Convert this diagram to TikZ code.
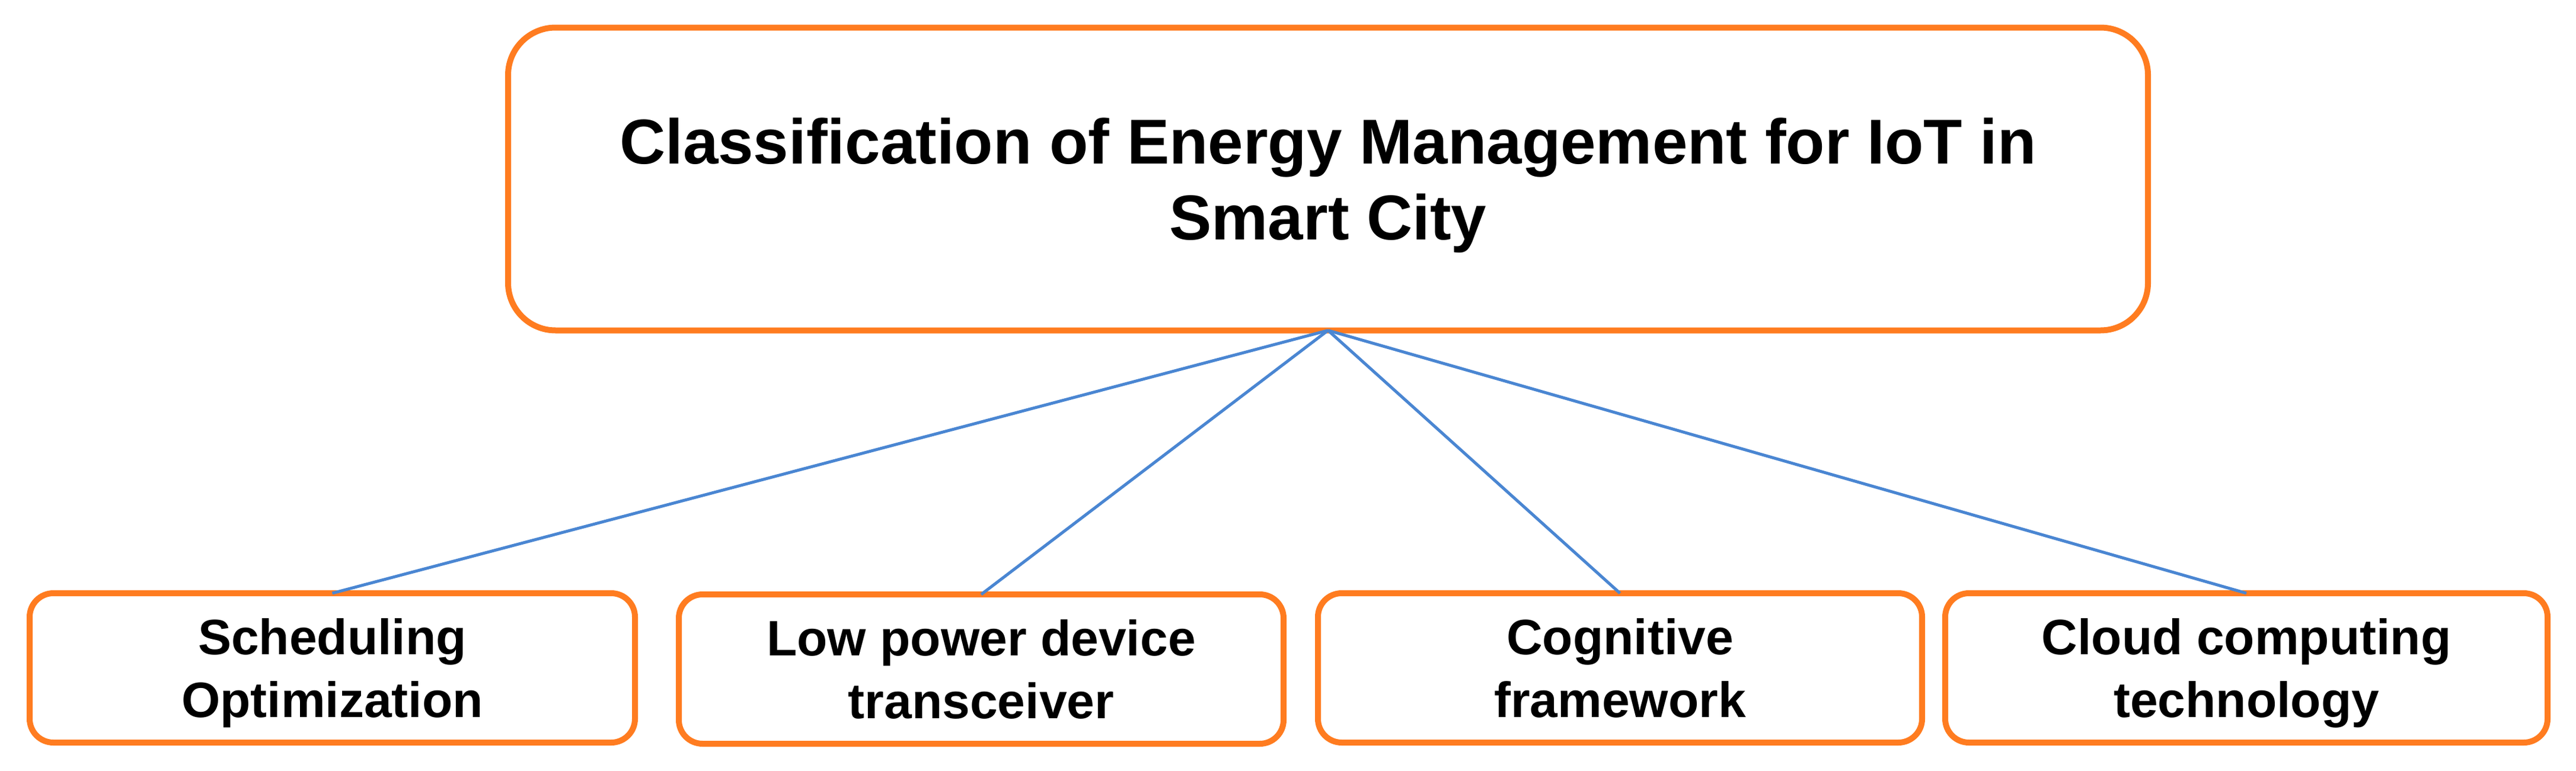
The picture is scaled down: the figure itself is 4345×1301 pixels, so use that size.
\documentclass[tikz,border=0pt]{standalone}
\usepackage{fontspec}
\setmainfont{Liberation Sans}
\definecolor{boxorange}{RGB}{255,124,32}
\definecolor{linkblue}{RGB}{74,134,210}
\begin{document}
\begin{tikzpicture}[x=1pt,y=-1pt,
  topbox/.style={draw=boxorange, line width=10pt, rounded corners=80pt, fill=white,
    inner sep=0pt, outer sep=0pt, minimum width=2766pt, minimum height=511pt,
    align=center, text depth=0pt, font=\fontsize{107}{128}\selectfont\bfseries},
  leafbox/.style={draw=boxorange, line width=10pt, rounded corners=40pt, fill=white,
    inner sep=0pt, outer sep=0pt, minimum height=252pt,
    align=center, text depth=0pt, font=\fontsize{84}{106}\selectfont\bfseries},
  link/.style={draw=linkblue, line width=5pt}]
\useasboundingbox (0,0) rectangle (4345,1301);
\node[topbox] (top) at (2240,302) {Classification of Energy Management for IoT in\\Smart City};
\node[leafbox, minimum width=1021pt] (b1) at (560.5,1127) {Scheduling\\Optimization};
\node[leafbox, minimum width=1020pt] (b2) at (1655,1129) {Low power device\\transceiver};
\node[leafbox, minimum width=1019pt] (b3) at (2732.5,1127) {Cognitive\\framework};
\node[leafbox, minimum width=1016pt] (b4) at (3789,1127) {Cloud computing\\technology};
\draw[link] (top.south) -- (b1.north);
\draw[link] (top.south) -- (b2.north);
\draw[link] (top.south) -- (b3.north);
\draw[link] (top.south) -- (b4.north);
\end{tikzpicture}
\end{document}
